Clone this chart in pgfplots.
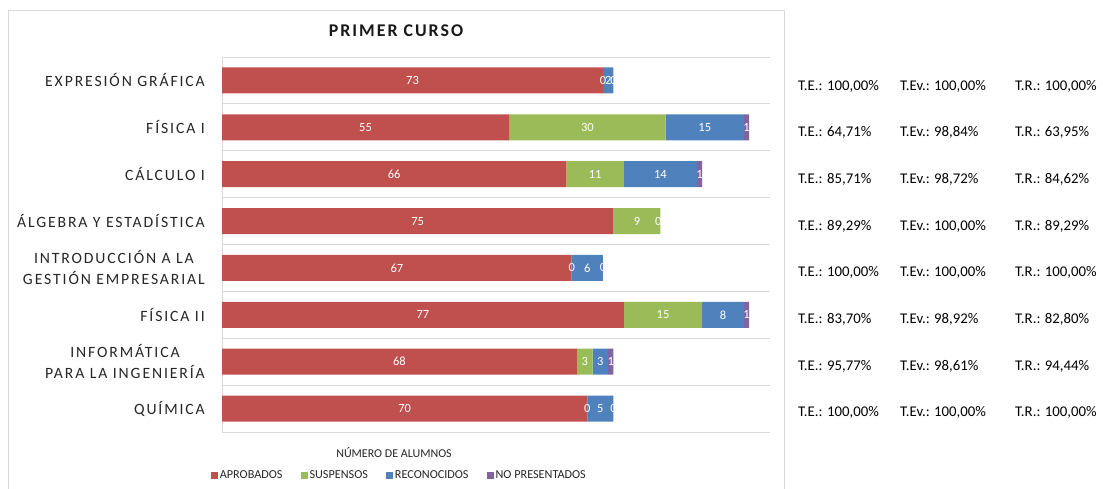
\documentclass[border=0pt]{standalone}
\usepackage{fontspec}
\setmainfont{Carlito}
\newfontfamily\catfont{Carlito}[LetterSpace=12]
\newfontfamily\titlefont{Carlito}[LetterSpace=11]
\usepackage{pgfplots}
\usepackage{pgfplotstable}
\pgfplotsset{compat=1.18}
\definecolor{cA}{HTML}{C0504D}
\definecolor{cS}{HTML}{9BBB59}
\definecolor{cR}{HTML}{4F81BD}
\definecolor{cN}{HTML}{8064A2}
\definecolor{gridc}{HTML}{D9D9D9}
% y: 7 = EXPRESION GRAFICA (top) ... 0 = QUIMICA (bottom)
\pgfplotstableread{
y aprob susp recon nopres
7 73 0 2 0
6 55 30 15 1
5 66 11 14 1
4 75 9 0 0
3 67 0 6 0
2 77 15 8 1
1 68 3 3 1
0 70 0 5 0
}\datatable
\pgfplotstableread{
x y lab
36.5 7 73
73 7 0
74 7 2
75 7 0
27.5 6 55
70 6 30
92.5 6 15
100.5 6 1
33 5 66
71.5 5 11
84 5 14
91.5 5 1
37.5 4 75
79.5 4 9
83.6 4 0
33.5 3 67
67 3 0
70 3 6
73 3 0
38.5 2 77
84.5 2 15
96 2 8
100.5 2 1
34 1 68
69.5 1 3
72.5 1 3
74.5 1 1
35 0 70
70 0 0
72.5 0 5
75 0 0
}\labeltable
\newcommand{\raterow}[4]{%
  \node at (798,489-#1) {T.E.: #2\%};%
  \node at (900,489-#1) {T.Ev.: #3\%};%
  \node at (1015,489-#1) {T.R.: #4\%};%
}
\begin{document}
\begin{tikzpicture}[x=1pt,y=1pt]
\useasboundingbox (0,0) rectangle (1103,489);
\draw[gridc, line width=0.8pt] (8,-2) rectangle (784,479);
\begin{axis}[
  at={(222pt,57pt)}, anchor=south west,
  scale only axis, width=548pt, height=375pt,
  xmin=0, xmax=105, ymin=-0.5, ymax=7.5,
  xbar stacked, bar width=0.555,
  axis x line=none, axis y line*=left,
  y axis line style={-, draw=gridc, line width=0.8pt},
  xtick=\empty,
  ytick={0,...,7},
  yticklabels={QUÍMICA,{INFORMÁTICA\\PARA LA INGENIERÍA},FÍSICA II,{INTRODUCCIÓN A LA\\GESTIÓN EMPRESARIAL},ÁLGEBRA Y ESTADÍSTICA,CÁLCULO I,FÍSICA I,EXPRESIÓN GRÁFICA},
  yticklabel style={align=center, anchor=east, inner sep=0pt, xshift=-17pt, font=\catfont\fontsize{15.7}{21}\selectfont, text=black!85},
  major tick length=0pt, minor tick length=0pt,
  minor ytick={-0.5,0.5,...,7.5},
  yminorgrids, minor grid style={draw=gridc, line width=0.8pt},
  legend style={at={(0.3235,-0.1147)}, anchor=center, draw=none, fill=none,
    font=\fontsize{12.2}{13}\selectfont, text=black!85,
    /tikz/every even column/.append style={column sep=16pt},
    legend cell align=left},
  legend columns=4,
  legend image code/.code={\fill (0pt,-3.5pt) rectangle (7pt,3.5pt);},
]
\addplot[fill=cA, draw=none] table[x=aprob, y=y] {\datatable};
\addplot[fill=cS, draw=none] table[x=susp, y=y] {\datatable};
\addplot[fill=cR, draw=none] table[x=recon, y=y] {\datatable};
\addplot[fill=cN, draw=none] table[x=nopres, y=y] {\datatable};
\legend{APROBADOS, SUSPENSOS, RECONOCIDOS, NO PRESENTADOS}
\end{axis}
\begin{axis}[
  at={(222pt,57pt)}, anchor=south west,
  scale only axis, width=548pt, height=375pt,
  xmin=0, xmax=105, ymin=-0.5, ymax=7.5,
  hide axis, clip=false,
]
\addplot[draw=none, mark=none, nodes near coords, point meta=explicit symbolic,
  every node near coord/.append style={anchor=center, text=white, inner sep=0pt, font=\fontsize{12.5}{12}\selectfont}]
  table[x=x, y=y, meta=lab] {\labeltable};
\end{axis}
\node[font=\titlefont\bfseries\fontsize{17.9}{18}\selectfont, text=black!90] at (396,458) {PRIMER CURSO};
\node[font=\fontsize{12}{12}\selectfont, text=black!85] at (394,36) {NÚMERO DE ALUMNOS};
\begin{scope}[every node/.style={anchor=west, inner sep=0pt, font=\fontsize{14.8}{15}\selectfont}]
\raterow{86}{100,00}{100,00}{100,00}
\raterow{132}{64,71}{98,84}{63,95}
\raterow{179}{85,71}{98,72}{84,62}
\raterow{226}{89,29}{100,00}{89,29}
\raterow{272}{100,00}{100,00}{100,00}
\raterow{319}{83,70}{98,92}{82,80}
\raterow{366}{95,77}{98,61}{94,44}
\raterow{412}{100,00}{100,00}{100,00}
\end{scope}
\end{tikzpicture}
\end{document}
